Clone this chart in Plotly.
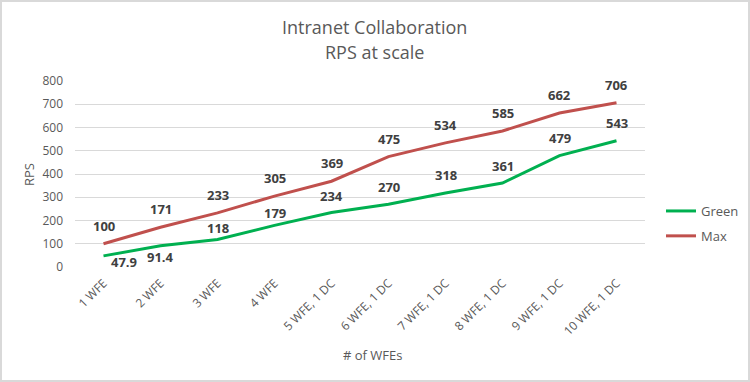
import plotly.graph_objects as go

categories = ["1 WFE", "2 WFE", "3 WFE", "4 WFE", "5 WFE, 1 DC", "6 WFE, 1 DC",
              "7 WFE, 1 DC", "8 WFE, 1 DC", "9 WFE, 1 DC", "10 WFE, 1 DC"]
green = [47.9, 91.4, 118, 179, 234, 270, 318, 361, 479, 543]
maxv = [100, 171, 233, 305, 369, 475, 534, 585, 662, 706]
green_labels = ["47.9", "91.4", "118", "179", "234", "270", "318", "361", "479", "543"]
max_labels = ["100", "171", "233", "305", "369", "475", "534", "585", "662", "706"]

GREEN = "#00B050"
RED = "#C0504D"
FONT = "Open Sans"
GREY = "#595959"

fig = go.Figure()
fig.add_trace(go.Scatter(x=categories, y=green, mode="lines", name="Green",
                         line=dict(color=GREEN, width=3), legendgroup="g"))
fig.add_trace(go.Scatter(x=categories, y=maxv, mode="lines", name="Max",
                         line=dict(color=RED, width=3), legendgroup="m"))

# label offsets (pixels) per point
green_off = [(20, -6), (0, -11), (0, 12), (0, 12), (0, 17), (0, 17), (0, 18), (0, 17), (0, 18), (0, 18)]
max_off = [(0, 18)] * 10

for cat, v, lab, (dx, dy) in zip(categories, green, green_labels, green_off):
    fig.add_annotation(x=cat, y=v, text=lab, showarrow=False, xshift=dx, yshift=dy,
                       font=dict(family=FONT, size=13, color="#404040", weight="bold"))
for cat, v, lab, (dx, dy) in zip(categories, maxv, max_labels, max_off):
    fig.add_annotation(x=cat, y=v, text=lab, showarrow=False, xshift=dx, yshift=dy,
                       font=dict(family=FONT, size=13, color="#404040", weight="bold"))

L, R, T, B = 75, 105, 81, 115
W, H = 750, 382
pw, ph = W - L - R, H - T - B


def px_x(x):
    return (x - L) / pw


def px_y(y):
    return (T + ph - y) / ph


fig.add_shape(type="rect", xref="paper", yref="paper",
              x0=px_x(1), x1=px_x(W - 1), y0=px_y(H - 1), y1=px_y(1),
              line=dict(color="#D9D9D9", width=2), layer="below")

# titles as annotations
for txt, ypix in [("Intranet Collaboration", 27), ("RPS at scale", 52)]:
    fig.add_annotation(xref="paper", yref="paper", x=px_x(W / 2 - 1), y=px_y(ypix),
                       text=txt, showarrow=False, xanchor="center", yanchor="middle",
                       font=dict(family=FONT, size=18, color=GREY))
fig.add_annotation(xref="paper", yref="paper", x=px_x(W / 2 - 3), y=px_y(355),
                   text="# of WFEs", showarrow=False, xanchor="center", yanchor="middle",
                   font=dict(family=FONT, size=13, color=GREY))
fig.add_annotation(xref="paper", yref="paper", x=px_x(29), y=px_y(175),
                   text="RPS", showarrow=False, textangle=-90, xanchor="center", yanchor="middle",
                   font=dict(family=FONT, size=13, color=GREY))

fig.update_layout(
    width=W, height=H,
    margin=dict(l=L, r=R, t=T, b=B, autoexpand=False),
    paper_bgcolor="white", plot_bgcolor="white",
    font=dict(family=FONT, color=GREY, size=12),
    showlegend=True,
    legend=dict(x=px_x(661), y=px_y(196), xanchor="left", yanchor="top",
                font=dict(family=FONT, size=13, color=GREY),
                tracegroupgap=5, bgcolor="rgba(0,0,0,0)"),
    xaxis=dict(type="category", range=[-0.5, 9.5], showgrid=False, showline=False,
               ticks="", tickangle=-45, ticklabelstandoff=6,
               tickfont=dict(size=12, color=GREY), automargin=False),
    yaxis=dict(range=[0, 800], dtick=100, showgrid=True, gridcolor="#D9D9D9", gridwidth=1,
               zeroline=False, showline=False, ticks="", ticklabelstandoff=11,
               tickfont=dict(size=12, color=GREY), automargin=False),
)

fig.write_html("out.html", config={"displayModeBar": False},
               post_script="document.body.style.margin='0';document.body.style.overflow='hidden';")
